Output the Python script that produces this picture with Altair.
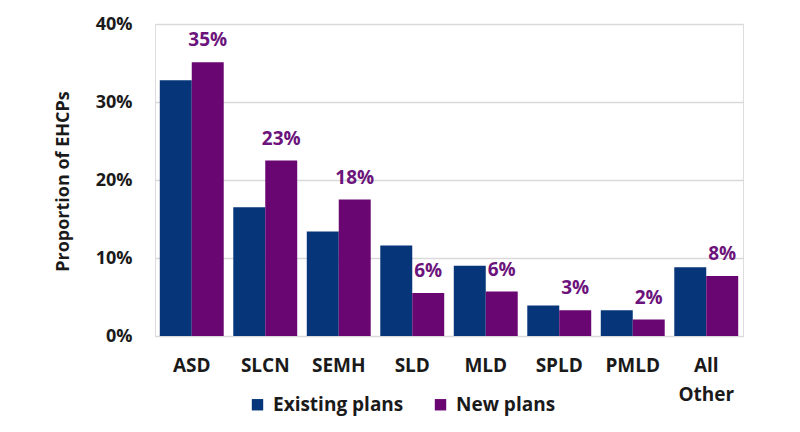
import altair as alt
import pandas as pd

categories = ["ASD", "SLCN", "SEMH", "SLD", "MLD", "SPLD", "PMLD", "All Other"]
existing = [0.328, 0.165, 0.134, 0.116, 0.090, 0.039, 0.033, 0.088]
new_plans = [0.351, 0.225, 0.175, 0.055, 0.057, 0.033, 0.021, 0.077]
new_labels = ["35%", "23%", "18%", "6%", "6%", "3%", "2%", "8%"]
series = ["Existing plans", "New plans"]

rows = []
for c, e, n, lab in zip(categories, existing, new_plans, new_labels):
    rows.append({"cat": c, "series": series[0], "value": e, "label": ""})
    rows.append({"cat": c, "series": series[1], "value": n, "label": lab})
df = pd.DataFrame(rows)

FONT = "Open Sans"
TXT = "#1a1a1a"

x = alt.X("cat:N", sort=categories, title=None,
          scale=alt.Scale(paddingInner=0.13, paddingOuter=0.065),
          axis=alt.Axis(labelAngle=0, domain=False, ticks=False, labelPadding=20,
                        labelFontSize=19, labelFontWeight="bold", labelColor=TXT,
                        labelFont=FONT, labelLineHeight=29,
                        labelExpr="datum.label == 'All Other' ? ['All', 'Other'] : datum.label"))
y = alt.Y("value:Q", title="Proportion of EHCPs",
          scale=alt.Scale(domain=[0, 0.4], nice=False),
          axis=alt.Axis(format=".0%", values=[0, 0.1, 0.2, 0.3, 0.4], domain=False, ticks=False,
                        labelPadding=23, labelFontSize=18, labelFontWeight="bold",
                        labelColor=TXT, labelFont=FONT,
                        gridColor="#d9d9d9", gridWidth=1.5,
                        titleFont=FONT, titleFontSize=18, titleFontWeight="bold",
                        titleColor=TXT, titleAngle=-90, titleX=-92, titleY=157,
                        titleAlign="center", titleBaseline="middle"))

color = alt.Color("series:N", sort=series,
                  scale=alt.Scale(domain=series, range=["#06357a", "#6a0672"]),
                  legend=alt.Legend(title=None, orient="none", direction="horizontal",
                                    legendX=93, legendY=371, symbolType="square",
                                    symbolSize=130, symbolStrokeWidth=0, symbolOpacity=1,
                                    labelFont=FONT, labelFontSize=19, labelFontWeight="bold",
                                    labelColor=TXT, labelOffset=6, columnPadding=27))

bars = alt.Chart(df).mark_bar().encode(
    x=x, y=y, color=color,
    xOffset=alt.XOffset("series:N", sort=series),
)

labels = alt.Chart(df).transform_filter(alt.datum.series == "New plans").mark_text(
    font=FONT, fontSize=19, fontWeight="bold", color="#6c137c", baseline="middle", dy=-22
).encode(
    x=alt.X("cat:N", sort=categories),
    xOffset=alt.XOffset("series:N", sort=series, scale=alt.Scale(domain=series)),
    y="value:Q",
    text="label:N",
)

chart = alt.layer(bars, labels).properties(
    width=588, height=312,
    autosize=alt.AutoSizeParams(type="none"),
    padding={"left": 147, "top": 16, "right": 49, "bottom": 88},
).configure_view(stroke=None).configure(background="white")

chart.save("out.html", embed_options={"renderer": "svg", "actions": False})
